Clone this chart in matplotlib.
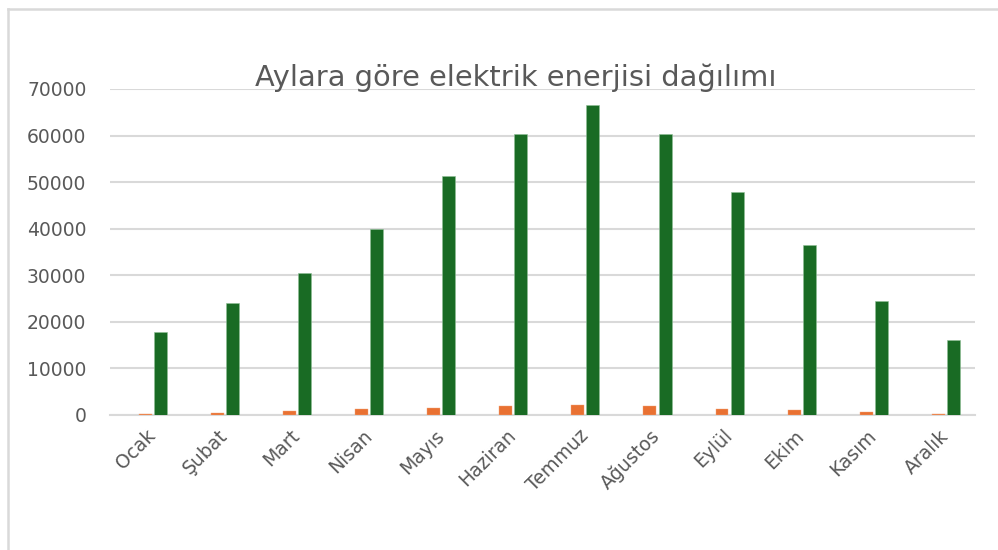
import matplotlib
matplotlib.use("Agg")
import matplotlib.pyplot as plt
import numpy as np
from matplotlib.lines import Line2D

# Monthly values
months = ["Ocak", "Şubat", "Mart", "Nisan", "Mayıs", "Haziran",
          "Temmuz", "Ağustos", "Eylül", "Ekim", "Kasım", "Aralık"]
orange_vals = [300, 500, 800, 1200, 1400, 1850, 2100, 1850, 1350, 1000, 600, 300]
green_vals = [17800, 24000, 30400, 40000, 51400, 60400, 66600, 60400, 47900, 36400, 24400, 16100]
yticks = [0, 10000, 20000, 30000, 40000, 50000, 60000, 70000]
title = "Aylara göre elektrik enerjisi dağılımı"

text_col = "#595959"
grid_col = "#D9D9D9"

fig = plt.figure(figsize=(9.98, 5.5), dpi=100)
ax = fig.add_axes([110 / 998, 1 - 415 / 550, 865 / 998, 326 / 550])

x = np.arange(len(months))
w = 0.18
ax.bar(x - 0.01, orange_vals, width=w, color="#E97132", edgecolor="#F2A57A",
       linewidth=0.3, zorder=3)
ax.bar(x + 0.20, green_vals, width=w, color="#196B24", edgecolor="#8FBF96",
       linewidth=0.4, zorder=3)

ax.set_xlim(-0.5, len(months) - 0.5)
ax.set_ylim(0, 70000)
ax.set_yticks(yticks)
ax.set_yticklabels([str(v) for v in yticks])
ax.yaxis.grid(True, color=grid_col, linewidth=1.5)
ax.set_axisbelow(True)
for s in ["top", "right", "left"]:
    ax.spines[s].set_visible(False)
ax.spines["bottom"].set_color(grid_col)
ax.spines["bottom"].set_linewidth(1.5)
ax.spines["bottom"].set_zorder(1)
ax.tick_params(axis="both", length=0, colors=text_col)
ax.tick_params(axis="y", pad=17, labelsize=13.5)
ax.set_xticks(x)
ax.set_xticklabels(months, rotation=45, ha="right", va="top",
                   rotation_mode="anchor")
ax.tick_params(axis="x", pad=8, labelsize=13.5)

fig.text(516 / 998, 1 - 78 / 550, title, ha="center", va="center",
         fontsize=20.8, color=text_col,
         family=["DejaVu Sans Condensed", "DejaVu Sans"])

# chart frame
fig.add_artist(Line2D([8 / 998, 8 / 998], [0, 1 - 9 / 550],
                      transform=fig.transFigure, color=grid_col, lw=1.8))
fig.add_artist(Line2D([8 / 998, 1], [1 - 9 / 550, 1 - 9 / 550],
                      transform=fig.transFigure, color=grid_col, lw=1.8))

fig.savefig("out.png", dpi=100)
